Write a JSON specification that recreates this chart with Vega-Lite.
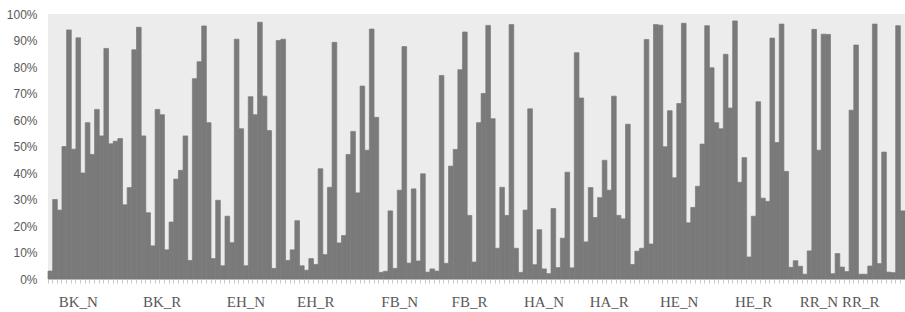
{
  "$schema": "https://vega.github.io/schema/vega-lite/v6.json",
  "autosize": {"type": "none"},
  "padding": {"left": 48, "top": 14, "right": 0, "bottom": 33},
  "width": 857,
  "height": 265,
  "background": "#ffffff",
  "config": {
    "view": {"fill": "#ececec", "stroke": null},
    "axis": {"labelColor": "#595959", "domain": false, "grid": false}
  },
  "data": {
    "values": [
      {"i": 1, "v": 0.03}, {"i": 2, "v": 0.30}, {"i": 3, "v": 0.26}, {"i": 4, "v": 0.50}, {"i": 5, "v": 0.94},
      {"i": 6, "v": 0.49}, {"i": 7, "v": 0.91}, {"i": 8, "v": 0.40}, {"i": 9, "v": 0.59}, {"i": 10, "v": 0.47},
      {"i": 11, "v": 0.64}, {"i": 12, "v": 0.54}, {"i": 13, "v": 0.87}, {"i": 14, "v": 0.51}, {"i": 15, "v": 0.52},
      {"i": 16, "v": 0.53}, {"i": 17, "v": 0.28}, {"i": 18, "v": 0.345}, {"i": 19, "v": 0.865}, {"i": 20, "v": 0.95},
      {"i": 21, "v": 0.54}, {"i": 22, "v": 0.25}, {"i": 23, "v": 0.125}, {"i": 24, "v": 0.64}, {"i": 25, "v": 0.62},
      {"i": 26, "v": 0.11}, {"i": 27, "v": 0.215}, {"i": 28, "v": 0.377}, {"i": 29, "v": 0.41}, {"i": 30, "v": 0.54},
      {"i": 31, "v": 0.07}, {"i": 32, "v": 0.756}, {"i": 33, "v": 0.82}, {"i": 34, "v": 0.955}, {"i": 35, "v": 0.59},
      {"i": 36, "v": 0.077}, {"i": 37, "v": 0.297}, {"i": 38, "v": 0.05}, {"i": 39, "v": 0.237}, {"i": 40, "v": 0.137},
      {"i": 41, "v": 0.905}, {"i": 42, "v": 0.567}, {"i": 43, "v": 0.05}, {"i": 44, "v": 0.688}, {"i": 45, "v": 0.62},
      {"i": 46, "v": 0.969}, {"i": 47, "v": 0.69}, {"i": 48, "v": 0.56}, {"i": 49, "v": 0.04}, {"i": 50, "v": 0.90},
      {"i": 51, "v": 0.905}, {"i": 52, "v": 0.07}, {"i": 53, "v": 0.11}, {"i": 54, "v": 0.22}, {"i": 55, "v": 0.05},
      {"i": 56, "v": 0.033}, {"i": 57, "v": 0.077}, {"i": 58, "v": 0.055}, {"i": 59, "v": 0.416}, {"i": 60, "v": 0.092},
      {"i": 61, "v": 0.346}, {"i": 62, "v": 0.893}, {"i": 63, "v": 0.136}, {"i": 64, "v": 0.164}, {"i": 65, "v": 0.47},
      {"i": 66, "v": 0.557}, {"i": 67, "v": 0.325}, {"i": 68, "v": 0.728}, {"i": 69, "v": 0.486}, {"i": 70, "v": 0.943},
      {"i": 71, "v": 0.61}, {"i": 72, "v": 0.025}, {"i": 73, "v": 0.029}, {"i": 74, "v": 0.257}, {"i": 75, "v": 0.04},
      {"i": 76, "v": 0.335}, {"i": 77, "v": 0.877}, {"i": 78, "v": 0.06}, {"i": 79, "v": 0.34}, {"i": 80, "v": 0.068},
      {"i": 81, "v": 0.397}, {"i": 82, "v": 0.026}, {"i": 83, "v": 0.038}, {"i": 84, "v": 0.03}, {"i": 85, "v": 0.768},
      {"i": 86, "v": 0.059}, {"i": 87, "v": 0.426}, {"i": 88, "v": 0.489}, {"i": 89, "v": 0.79}, {"i": 90, "v": 0.932},
      {"i": 91, "v": 0.24}, {"i": 92, "v": 0.064}, {"i": 93, "v": 0.59}, {"i": 94, "v": 0.70}, {"i": 95, "v": 0.957},
      {"i": 96, "v": 0.605}, {"i": 97, "v": 0.116}, {"i": 98, "v": 0.346}, {"i": 99, "v": 0.24}, {"i": 100, "v": 0.96},
      {"i": 101, "v": 0.116}, {"i": 102, "v": 0.025}, {"i": 103, "v": 0.26}, {"i": 104, "v": 0.642}, {"i": 105, "v": 0.054},
      {"i": 106, "v": 0.186}, {"i": 107, "v": 0.038}, {"i": 108, "v": 0.02}, {"i": 109, "v": 0.266}, {"i": 110, "v": 0.043},
      {"i": 111, "v": 0.154}, {"i": 112, "v": 0.403}, {"i": 113, "v": 0.042}, {"i": 114, "v": 0.854}, {"i": 115, "v": 0.683},
      {"i": 116, "v": 0.14}, {"i": 117, "v": 0.345}, {"i": 118, "v": 0.232}, {"i": 119, "v": 0.307}, {"i": 120, "v": 0.448},
      {"i": 121, "v": 0.335}, {"i": 122, "v": 0.69}, {"i": 123, "v": 0.24}, {"i": 124, "v": 0.227}, {"i": 125, "v": 0.584},
      {"i": 126, "v": 0.055}, {"i": 127, "v": 0.105}, {"i": 128, "v": 0.116}, {"i": 129, "v": 0.904}, {"i": 130, "v": 0.132},
      {"i": 131, "v": 0.96}, {"i": 132, "v": 0.958}, {"i": 133, "v": 0.499}, {"i": 134, "v": 0.635}, {"i": 135, "v": 0.382},
      {"i": 136, "v": 0.662}, {"i": 137, "v": 0.965}, {"i": 138, "v": 0.212}, {"i": 139, "v": 0.27}, {"i": 140, "v": 0.35},
      {"i": 141, "v": 0.509}, {"i": 142, "v": 0.956}, {"i": 143, "v": 0.797}, {"i": 144, "v": 0.59}, {"i": 145, "v": 0.567},
      {"i": 146, "v": 0.848}, {"i": 147, "v": 0.645}, {"i": 148, "v": 0.974}, {"i": 149, "v": 0.365}, {"i": 150, "v": 0.458},
      {"i": 151, "v": 0.083}, {"i": 152, "v": 0.237}, {"i": 153, "v": 0.669}, {"i": 154, "v": 0.305}, {"i": 155, "v": 0.293},
      {"i": 156, "v": 0.909}, {"i": 157, "v": 0.515}, {"i": 158, "v": 0.962}, {"i": 159, "v": 0.406}, {"i": 160, "v": 0.044},
      {"i": 161, "v": 0.069}, {"i": 162, "v": 0.048}, {"i": 163, "v": 0.018}, {"i": 164, "v": 0.106}, {"i": 165, "v": 0.942},
      {"i": 166, "v": 0.486}, {"i": 167, "v": 0.924}, {"i": 168, "v": 0.923}, {"i": 169, "v": 0.02}, {"i": 170, "v": 0.096},
      {"i": 171, "v": 0.045}, {"i": 172, "v": 0.028}, {"i": 173, "v": 0.637}, {"i": 174, "v": 0.883}, {"i": 175, "v": 0.018},
      {"i": 176, "v": 0.018}, {"i": 177, "v": 0.049}, {"i": 178, "v": 0.962}, {"i": 179, "v": 0.058}, {"i": 180, "v": 0.479},
      {"i": 181, "v": 0.026}, {"i": 182, "v": 0.024}, {"i": 183, "v": 0.956}, {"i": 184, "v": 0.257}
    ]
  },
  "mark": {"type": "bar", "color": "#7a7a7a", "stroke": "#7a7a7a", "strokeWidth": 0.7},
  "encoding": {
    "x": {
      "field": "i",
      "type": "ordinal",
      "scale": {"paddingInner": 0, "paddingOuter": 0},
      "axis": {
        "title": null,
        "bandPosition": 0,
        "labelAngle": 0,
        "labelOverlap": false,
        "labelFont": "Liberation Serif",
        "labelFontSize": 15,
        "labelPadding": 11,
        "ticks": true,
        "tickSize": 4,
        "tickColor": "#c8c8c8",
        "domain": true,
        "domainColor": "#dcdcdc",
        "labelExpr": "indexof([7,25,43,58,76,91,107,121,136,152,166,175], datum.value) >= 0 ? ['BK_N','BK_R','EH_N','EH_R','FB_N','FB_R','HA_N','HA_R','HE_N','HE_R','RR_N','RR_R'][indexof([7,25,43,58,76,91,107,121,136,152,166,175], datum.value)] : ''"
      }
    },
    "y": {
      "field": "v",
      "type": "quantitative",
      "scale": {"domain": [0, 1], "nice": false},
      "axis": {
        "title": null,
        "format": ".0%",
        "values": [0, 0.1, 0.2, 0.3, 0.4, 0.5, 0.6, 0.7, 0.8, 0.9, 1],
        "ticks": false,
        "tickSize": 0,
        "labelPadding": 11,
        "labelFont": "Liberation Sans",
        "labelFontSize": 12
      }
    }
  }
}
